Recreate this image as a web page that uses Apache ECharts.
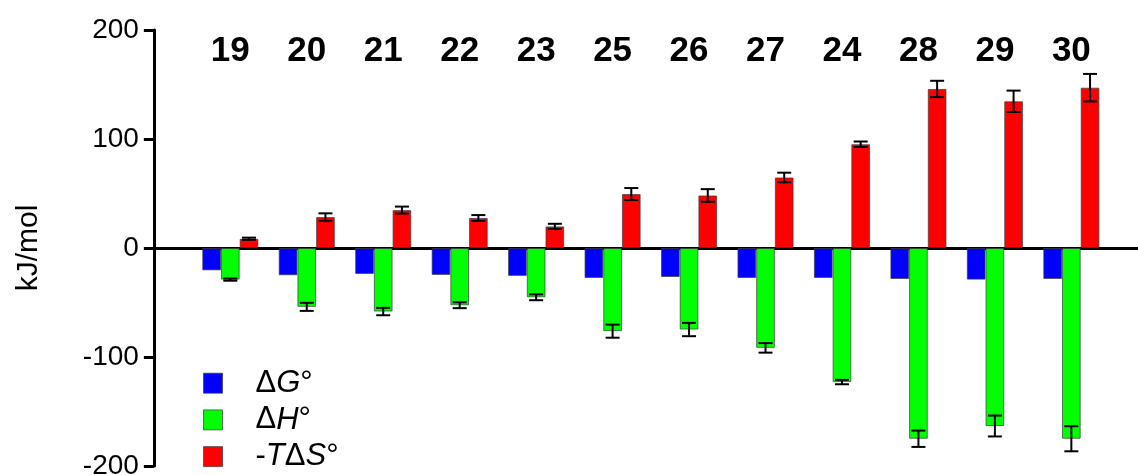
<!DOCTYPE html>
<html>
<head>
<meta charset="utf-8">
<script src="https://cdn.jsdelivr.net/npm/echarts@6/dist/echarts.min.js"></script>
<style>
html,body{margin:0;padding:0;background:#fff;}
#chart{width:1138px;height:475px;}
</style>
</head>
<body>
<div id="chart"></div>
<script>
// ---- data ----
var compounds = ['19','20','21','22','23','25','26','27','24','28','29','30'];
var seriesNames = ['\u0394G\u00b0', '\u0394H\u00b0', '-T\u0394S\u00b0'];
var dG   = [-20.5, -25, -23.8, -24.7, -25.6, -27.5, -26.6, -27.5, -27.5, -28.4, -29, -28.4];
var dH   = [-29, -54, -58.3, -52.5, -45.2, -76.3, -74.8, -91.6, -123, -175, -163.3, -175];
var dHerr= [1, 3.7, 3.4, 2.7, 2.7, 6, 6.1, 4.4, 2, 7.5, 9.6, 11.5];
var TdS  = [8.5, 28.4, 34.8, 27.5, 19.8, 49.5, 48.2, 64.7, 95.2, 145.9, 134.6, 147.1];
var TdSerr=[1, 3.4, 3.2, 2.7, 2.4, 5.5, 5.8, 4.4, 2.5, 7.5, 9.8, 12.6];
var yTicks = [-200, -100, 0, 100, 200];

// ---- build ----
var cats = [''].concat(compounds).concat(['']);
function pad(arr){ return [null].concat(arr).concat([null]); }
var BW = 18.7;
var colors = ['#0000ff', '#00ff00', '#ff0000'];

function errData(vals, errs){
  return vals.map(function(v, i){ return [i + 1, v, errs[i]]; });
}
function errSeries(vals, errs, offsetIdx){
  return {
    type: 'custom',
    xAxisIndex: 0,
    yAxisIndex: 0,
    z: 10,
    silent: true,
    data: errData(vals, errs),
    encode: { x: 0, y: 1 },
    renderItem: function(params, api){
      var x = api.value(0), v = api.value(1), e = api.value(2);
      var hi = api.coord([x, v + e]);
      var lo = api.coord([x, v - e]);
      var cx = hi[0] + offsetIdx * BW;
      var cap = 7;
      var st = { stroke: '#000', lineWidth: 2 };
      return { type: 'group', children: [
        { type: 'line', shape: { x1: cx, y1: hi[1], x2: cx, y2: lo[1] }, style: st },
        { type: 'line', shape: { x1: cx - cap, y1: hi[1], x2: cx + cap, y2: hi[1] }, style: st },
        { type: 'line', shape: { x1: cx - cap, y1: lo[1], x2: cx + cap, y2: lo[1] }, style: st }
      ]};
    }
  };
}

var FONT = '"Liberation Sans", Arial, sans-serif';
var chart = echarts.init(document.getElementById('chart'), null, { renderer: 'canvas' });

function barSeries(name, vals, color){
  return {
    name: name,
    type: 'bar',
    xAxisIndex: 0,
    barWidth: BW,
    barGap: '0%',
    data: pad(vals),
    itemStyle: { color: color, borderColor: 'rgba(60,60,60,0.7)', borderWidth: 1 },
    animation: false
  };
}

var option = {
  animation: false,
  backgroundColor: '#fff',
  grid: { left: 153.85, right: -9.8, top: 30, bottom: 9, containLabel: false, outerBoundsMode: 'none' },
  legend: {
    orient: 'vertical',
    left: 203,
    top: 367.7,
    padding: 0,
    height: 120,
    itemWidth: 19,
    itemHeight: 20,
    itemGap: 5.7,
    data: seriesNames,
    icon: 'rect',
    itemStyle: { borderColor: 'rgba(60,60,60,0.7)', borderWidth: 1 },
    formatter: function(name){
      var s = '{n|' + name.replace(/([A-Z])/g, '}{i|$1}{n|') + '}';
      return '{sp|}' + s;
    },
    textStyle: {
      fontFamily: FONT,
      fontSize: 31,
      color: '#000',
      rich: {
        sp: { width: 28, fontSize: 31, lineHeight: 30 },
        n: { fontFamily: FONT, fontSize: 31, color: '#000', lineHeight: 30 },
        i: { fontFamily: FONT, fontSize: 31, color: '#000', fontStyle: 'italic', lineHeight: 30 }
      }
    }
  },
  xAxis: [
    {
      type: 'category',
      data: cats,
      boundaryGap: false,
      axisLine: { onZero: true, lineStyle: { color: '#000', width: 3 } },
      axisTick: { show: false },
      axisLabel: { show: false },
      splitLine: { show: false }
    },
    {
      type: 'category',
      data: cats,
      boundaryGap: false,
      position: 'top',
      axisLine: { show: false },
      axisTick: { show: false },
      axisLabel: {
        show: true,
        interval: 0,
        margin: -21,
        verticalAlign: 'middle',
        fontFamily: FONT,
        fontSize: 35,
        fontWeight: 'bold',
        color: '#000'
      },
      splitLine: { show: false }
    }
  ],
  yAxis: {
    type: 'value',
    min: yTicks[0],
    max: yTicks[yTicks.length - 1],
    interval: 100,
    name: 'kJ/mol',
    nameLocation: 'middle',
    nameGap: 110,
    nameRotate: 90,
    nameTextStyle: { fontFamily: FONT, fontSize: 30, color: '#000' },
    axisLine: { show: true, lineStyle: { color: '#000', width: 3 } },
    axisTick: { show: true, length: 10, lineStyle: { color: '#000', width: 3 } },
    axisLabel: { margin: 15, fontFamily: FONT, fontSize: 28, color: '#000' },
    splitLine: { show: false }
  },
  series: [
    barSeries(seriesNames[0], dG, colors[0]),
    barSeries(seriesNames[1], dH, colors[1]),
    barSeries(seriesNames[2], TdS, colors[2]),
    errSeries(dH, dHerr, 0),
    errSeries(TdS, TdSerr, 1)
  ]
};
chart.setOption(option);
</script>
</body>
</html>
